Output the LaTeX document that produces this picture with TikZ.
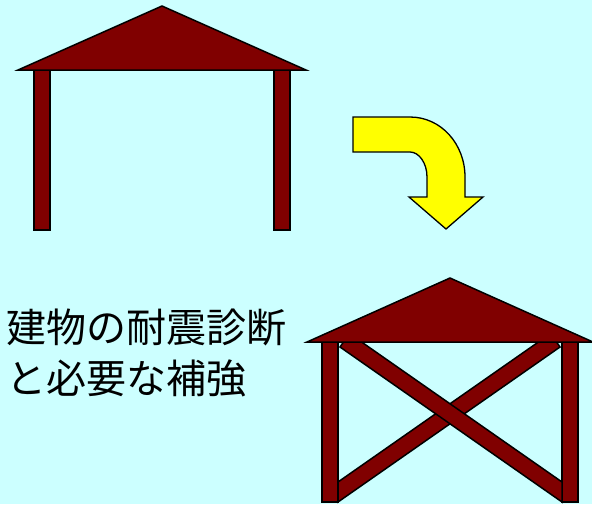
\documentclass[tikz,border=0pt]{standalone}
\usepackage{fontspec}
\newfontfamily\jpfont{Noto Sans CJK JP}
\definecolor{bgcyan}{HTML}{CCFFFF}
\definecolor{maroon}{HTML}{800000}
\definecolor{arrowyellow}{HTML}{FFFF00}
\begin{document}
\begin{tikzpicture}[x=1pt,y=-1pt,
  part/.style={fill=maroon,draw=black,line width=1.5pt,line join=miter},
  bendarrow/.style={fill=arrowyellow,draw=black,line width=1.3pt,line join=miter},
  label/.style={inner sep=0pt,anchor=base west,font=\jpfont\fontsize{40}{48}\selectfont}]
\fill[bgcyan] (0,0) rectangle (592,504);
\useasboundingbox (0,0) rectangle (592,504);
% top house
\draw[part] (34,70) rectangle (50,230);
\draw[part] (274,70) rectangle (290,230);
\draw[part] (18,70) -- (162,6) -- (306,70) -- cycle;
% bent arrow
\draw[bendarrow] (353,117) -- (410,117) .. controls (441,117) and (465,144) .. (465,177)
  -- (465,197) -- (483,197) -- (446,229) -- (409,197) -- (427,197) -- (427,177)
  .. controls (427,163) and (419,152) .. (410,152) -- (353,152) -- cycle;
% bottom house
\draw[part] (322,342) rectangle (338,502);
\draw[part] (562,342) rectangle (578,502);
\draw[part] (560,347) -- (338,502) -- (338,482) -- (550.6,333.5) -- cycle;
\draw[part] (340,347) -- (562,502) -- (562,482) -- (349.4,333.5) -- cycle;
\draw[part] (307,342) -- (450,278) -- (593,342) -- cycle;
% text
\node[label] (line1) at (6,342) {建物の耐震診断};
\node[label] (line2) at (6,393) {と必要な補強};
\end{tikzpicture}
\end{document}
